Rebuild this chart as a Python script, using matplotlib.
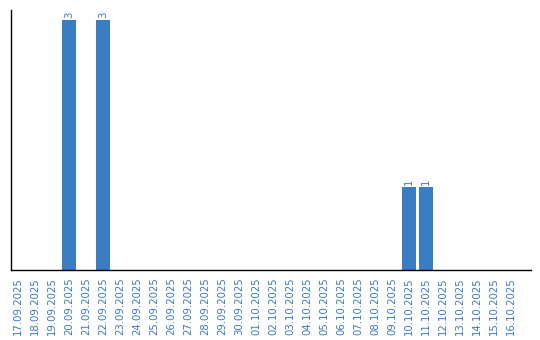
import matplotlib
matplotlib.use("Agg")
import matplotlib.pyplot as plt
from datetime import date, timedelta

start = date(2025, 9, 17)
dates = [(start + timedelta(days=i)).strftime("%d.%m.%Y") for i in range(30)]
counts = [0, 0, 0, 3, 0, 3, 0, 0, 0, 0,
          0, 0, 0, 0, 0, 0, 0, 0, 0, 0,
          0, 0, 0, 1, 1, 0, 0, 0, 0, 0]

bar_color = '#3a7dc2'
text_color = '#3a78c0'

fig = plt.figure(figsize=(5.4, 3.4), dpi=100)
ax = fig.add_axes([11 / 540, 70 / 340, 520 / 540, 260 / 340])

x = list(range(len(dates)))
ax.bar(x, counts, width=0.82, color=bar_color)

# value labels above the bars
for xi, c in zip(x, counts):
    if c > 0:
        ax.text(xi, c + 0.02, str(c), rotation=90, ha='center', va='bottom',
                color=text_color, fontsize=7.3)

ax.set_xlim(-0.41, 30.18)
ax.set_ylim(0, 3.12)
ax.set_xticks(x)
ax.set_xticklabels(dates, rotation=90, color=text_color, fontsize=7.3)
ax.set_yticks([])
ax.tick_params(axis='x', length=0, pad=5)

for side in ['top', 'right']:
    ax.spines[side].set_visible(False)
ax.spines['left'].set_linewidth(1.0)
ax.spines['bottom'].set_linewidth(1.0)

plt.savefig("out.png", dpi=100)
plt.close()
